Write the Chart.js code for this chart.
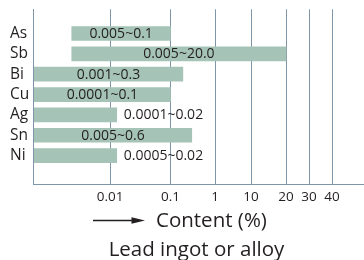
<!DOCTYPE html>
<html>
<head>
<meta charset="utf-8">
<script src="https://cdn.jsdelivr.net/npm/chart.js@4/dist/chart.umd.min.js"></script>
<style>
html,body{margin:0;padding:0;background:#ffffff;}
#wrap{width:364px;height:260px;position:relative;}
</style>
</head>
<body>
<div id="wrap"><canvas id="c"></canvas></div>
<script>
// ---- data ----
const elements = ['As', 'Sb', 'Bi', 'Cu', 'Ag', 'Sn', 'Ni'];
const rangeLabels = ['0.005~0.1', '0.005~20.0', '0.001~0.3', '0.0001~0.1', '0.0001~0.02', '0.005~0.6', '0.0005~0.02'];
const rangeStart = [0.005, 0.005, 0.0001, 0.0001, 0.0001, 0.0001, 0.0001];
const rangeEnd = [0.1, 20, 0.35, 0.1, 0.02, 0.53, 0.02];
const xTickValues = [0.01, 0.1, 1, 10, 20, 30, 40];
const xTickLabels = ['0.01', '0.1', '1', '10', '20', '30', '40'];
const axisTitle = 'Content (%)';
const chartCaption = 'Lead ingot or alloy';

// ---- scale configuration: the axis is drawn piecewise (breakpoints and their share of the axis length) ----
const axisBreaks = [0, 0.01, 0.1, 1, 10, 20, 30, 40, 54];
const axisFractions = [0, 0.2315, 0.4145, 0.5492, 0.6581, 0.7640, 0.8336, 0.9032, 1];

class PiecewiseScale extends Chart.LinearScale {
  buildTicks() {
    return xTickValues.map(v => ({ value: v }));
  }
  _frac(v) {
    const b = axisBreaks, f = axisFractions;
    if (v <= b[0]) return f[0];
    for (let i = 1; i < b.length; i++) {
      if (v <= b[i]) return f[i - 1] + (v - b[i - 1]) / (b[i] - b[i - 1]) * (f[i] - f[i - 1]);
    }
    return f[f.length - 1];
  }
  getPixelForValue(v) {
    if (v === null || v === undefined || isNaN(v)) return NaN;
    return this.getPixelForDecimal(this._frac(v));
  }
  getValueForPixel(p) {
    const d = this.getDecimalForPixel(p);
    const b = axisBreaks, f = axisFractions;
    for (let i = 1; i < f.length; i++) {
      if (d <= f[i]) return b[i - 1] + (d - f[i - 1]) / (f[i] - f[i - 1]) * (b[i] - b[i - 1]);
    }
    return b[b.length - 1];
  }
}
PiecewiseScale.id = 'piecewise';
PiecewiseScale.defaults = Chart.LinearScale.defaults;
Chart.register(PiecewiseScale);

const TEXT = '#231f20';
const GRID = '#7f95a8';
const BAR = '#a5c3b6';
const FONT = '"Open Sans", "Noto Sans", sans-serif';

const barLabels = {
  id: 'barLabels',
  afterDatasetsDraw(chart) {
    const ctx = chart.ctx;
    const meta = chart.getDatasetMeta(0);
    ctx.save();
    ctx.font = '14px ' + FONT;
    ctx.fillStyle = TEXT;
    ctx.textBaseline = 'middle';
    meta.data.forEach((bar, i) => {
      const text = rangeLabels[i];
      const w = ctx.measureText(text).width;
      const left = Math.min(bar.x, bar.base), right = Math.max(bar.x, bar.base);
      if (w + 6 <= right - left) {
        ctx.textAlign = 'center';
        ctx.fillText(text, (left + right) / 2, bar.y + 0.5);
      } else {
        ctx.textAlign = 'left';
        ctx.fillText(text, right + 7, bar.y + 0.5);
      }
    });
    ctx.restore();
  }
};

const footer = {
  id: 'footer',
  afterDraw(chart) {
    const { ctx, chartArea } = chart;
    const L = chartArea.left;
    ctx.save();
    ctx.fillStyle = TEXT;
    ctx.strokeStyle = TEXT;
    // arrow
    const ay = 220.5;
    ctx.lineWidth = 1.3;
    ctx.beginPath();
    ctx.moveTo(L + 59.5, ay);
    ctx.lineTo(L + 100, ay);
    ctx.stroke();
    ctx.beginPath();
    ctx.moveTo(L + 111.5, ay);
    ctx.lineTo(L + 98, ay - 3.3);
    ctx.lineTo(L + 98, ay + 3.3);
    ctx.closePath();
    ctx.fill();
    ctx.font = '20.5px ' + FONT;
    ctx.textBaseline = 'alphabetic';
    ctx.textAlign = 'left';
    ctx.fillText(axisTitle, L + 122.5, 227);
    ctx.textAlign = 'center';
    ctx.fillText(chartCaption, L + 163, 256);
    ctx.restore();
  }
};

new Chart(document.getElementById('c'), {
  type: 'bar',
  data: {
    datasets: [{
      data: elements.map((e, i) => ({ y: i, x: [rangeStart[i], rangeEnd[i]] })),
      backgroundColor: BAR,
      borderWidth: 0,
      barThickness: 14
    }]
  },
  options: {
    indexAxis: 'y',
    responsive: true,
    maintainAspectRatio: false,
    animation: false,
    events: [],
    layout: { padding: { top: 6, left: 10, right: 0, bottom: 0 } },
    plugins: { legend: { display: false }, tooltip: { enabled: false }, title: { display: false } },
    scales: {
      x: {
        type: 'piecewise',
        position: 'bottom',
        min: 0,
        max: 54,
        grid: { color: GRID, lineWidth: 1, drawTicks: false },
        border: { display: true, color: GRID, width: 1 },
        ticks: {
          callback: (v, i) => xTickLabels[i],
          font: { family: FONT, size: 13.5 },
          color: TEXT,
          padding: 5,
          maxRotation: 0,
          autoSkip: false
        },
        afterFit: s => { s.height = 76; }
      },
      y: {
        type: 'linear',
        position: 'left',
        reverse: true,
        min: -0.575,
        max: 6.78,
        afterBuildTicks: s => { s.ticks = elements.map((e, i) => ({ value: i })); },
        grid: { display: false },
        border: { display: true, color: GRID, width: 1 },
        ticks: {
          callback: v => elements[v],
          font: { family: FONT, size: 15.5 },
          color: TEXT,
          crossAlign: 'far',
          padding: 0,
          autoSkip: false
        },
        afterFit: s => { s.width = 23.5; }
      }
    }
  },
  plugins: [barLabels, footer]
});
</script>
</body>
</html>
